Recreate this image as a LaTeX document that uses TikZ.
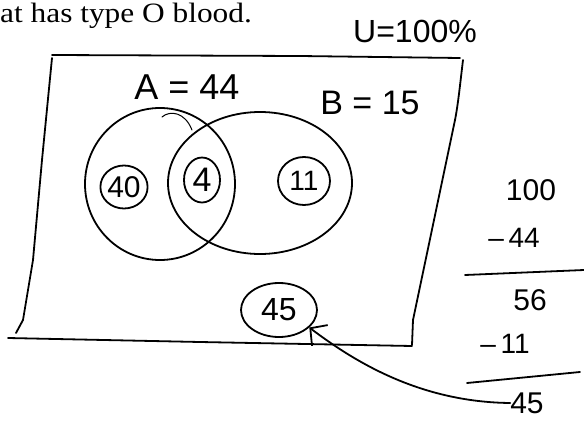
\documentclass[tikz,border=0pt]{standalone}
\usepackage{fontspec}
\setmainfont{Liberation Serif}
\newfontfamily\scanfont{Liberation Serif}[FakeStretch=1.12]
\newfontfamily\hand{Liberation Sans}
\usetikzlibrary{shapes.geometric,arrows.meta}
\tikzset{
  pen/.style={line width=1.8pt, line cap=round, line join=round},
  ring/.style={pen, draw, ellipse, inner sep=0pt},
  hw/.style={inner sep=0pt, font=\hand\fontsize{#1}{#1}\selectfont},
}
\begin{document}
\begin{tikzpicture}[x=1pt,y=-1pt]
\useasboundingbox (0,0) rectangle (584,423);
% printed text
\node[anchor=base west, inner sep=0pt, font=\scanfont\fontsize{28}{30}\selectfont] (title) at (0,22) {at has type O blood.};
% universe box (hand drawn)
\draw[pen] (52,55) -- (300,56) -- (460,58);
\draw[pen] (463,60) .. controls (460,85) and (458,105) .. (455,120) -- (413,320) -- (412,345);
\draw[pen] (412,346) -- (200,342) -- (8,338);
\draw[pen] (16,333) -- (23,320) -- (33,260) -- (42,160) -- (52,58);
% labels
\node[hw=32] (U) at (415,31) {U=100\%};
\node[hw=36] (Alab) at (187,87) {A = 44};
\node[hw=34] (Blab) at (370,103) {B = 15};
% sets
\node[ring, minimum width=150pt, minimum height=152pt] (A) at (160,184) {};
\node[ring, minimum width=184pt, minimum height=142pt] (B) at (260,183) {};
\draw[line width=1pt, line cap=round] (162,117) .. controls (170,110) and (185,112) .. (192,130);
% regions
\node[ring, minimum width=45pt, minimum height=43pt, hw=30] (n40) at (124,187) {40};
\node[ring, minimum width=36pt, minimum height=45pt, hw=34] (n4) at (202,180) {4};
\node[ring, minimum width=52pt, minimum height=48pt, hw=28] (n11) at (304,181) {11};
\node[ring, minimum width=76pt, minimum height=54pt, hw=32] (n45) at (279,310) {45};
% arithmetic
\node[hw=30] (r100) at (531,190) {100};
\node[hw=28] (r44) at (514,238) {–\,44};
\draw[pen] (465,275) -- (584,270);
\node[hw=30] (r56) at (530,300) {56};
\node[hw=28] (r11) at (505,344) {–\,11};
\draw[pen] (467,383) -- (580,372);
\node[hw=30] (r45) at (527,403) {45};
% arrow
\draw[pen, -{Straight Barb[length=12pt,width=26pt]}] (r45.west) .. controls (420,402) and (355,362) .. (n45.-30);
\end{tikzpicture}
\end{document}
